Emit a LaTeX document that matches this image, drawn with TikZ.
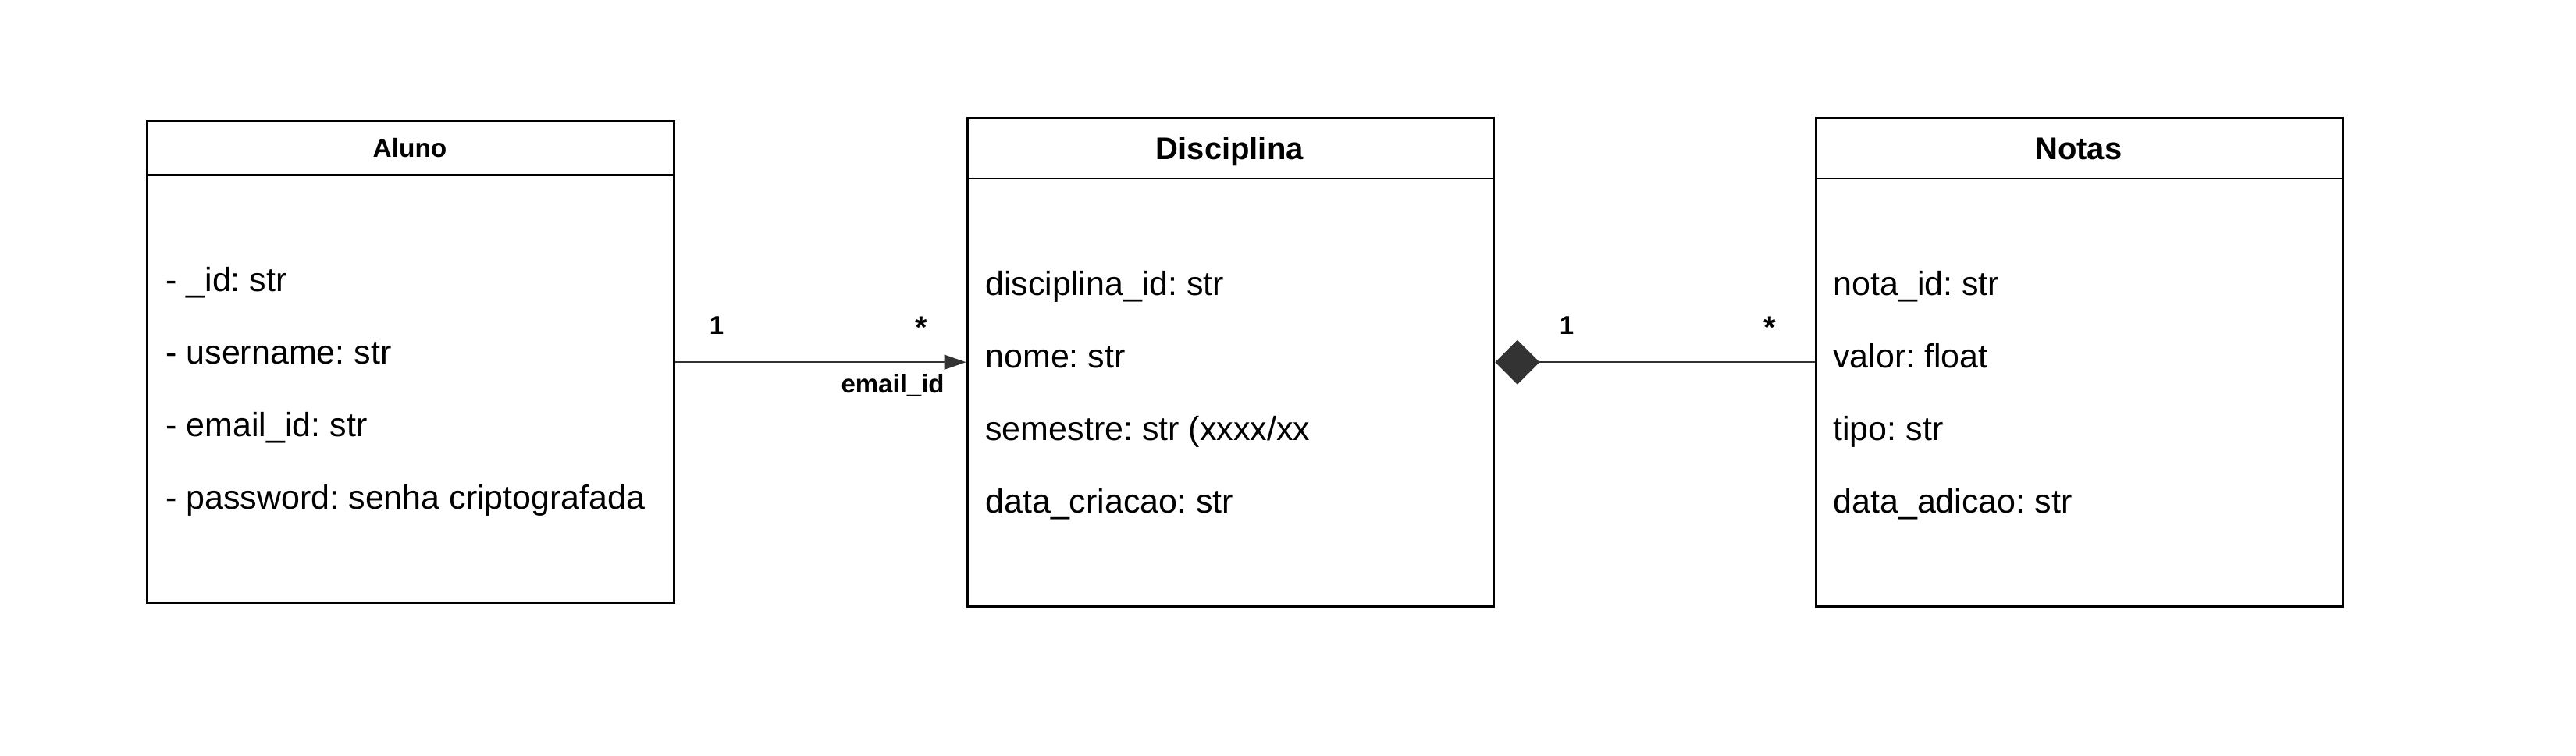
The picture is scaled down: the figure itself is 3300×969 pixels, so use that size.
\documentclass[tikz,border=0pt]{standalone}
\usepackage{fontspec}
\setmainfont{Liberation Sans}
\usetikzlibrary{arrows.meta}
\definecolor{lineC}{HTML}{333333}
\frenchspacing
\begin{document}
\begin{tikzpicture}[x=0.5pt,y=-0.5pt,
  box/.style={draw=black, line width=1.7pt, inner sep=0pt, outer sep=0.85pt, anchor=north west},
  sepline/.style={draw=black, line width=1.3pt},
  attr/.style={anchor=base west, inner sep=0pt, font=\fontsize{21.5}{24}\selectfont},
  title/.style={anchor=base, inner sep=0pt, font=\fontsize{20}{24}\selectfont\bfseries},
  smalltitle/.style={anchor=base, inner sep=0pt, font=\fontsize{16.7}{20}\selectfont\bfseries},
  mult/.style={anchor=base, inner sep=0pt, font=\fontsize{16.5}{20}\selectfont\bfseries},
  star/.style={anchor=base, inner sep=0pt, font=\fontsize{20}{24}\selectfont\bfseries},
  conn/.style={draw=lineC, line width=0.9pt}]
\useasboundingbox (0,0) rectangle (3300,969);
% boxes
\node[box, minimum width=337.5pt, minimum height=308.5pt] (aluno) at (187,154) {};
\node[box, minimum width=337.25pt, minimum height=313pt] (disc) at (1237.5,149.5) {};
\node[box, minimum width=337.25pt, minimum height=313pt] (notas) at (2325,149.5) {};
% header separators
\draw[sepline] (187,224) -- (862,224);
\draw[sepline] (1237.5,229) -- (1912,229);
\draw[sepline] (2325,229) -- (2999.5,229);
% titles
\node[smalltitle] (alunoT) at (525,201.5) {Aluno};
\node[title] (discT) at (1575.25,204.5) {Disciplina};
\node[title] (notasT) at (2662.75,204) {Notas};
% attributes
\node[attr] (a1) at (212,373) {- \_id: str};
\node[attr] (a2) at (212,466) {- username: str};
\node[attr] (a3) at (212,559) {- email\_id: str};
\node[attr] (a4) at (212,652) {- password: senha criptografada};
\node[attr] (d1) at (1262,378) {disciplina\_id: str};
\node[attr] (d2) at (1262,471) {nome: str};
\node[attr] (d3) at (1262,564) {semestre: str (xxxx/xx};
\node[attr] (d4) at (1262,657) {data\_criacao: str};
\node[attr] (n1) at (2348,378) {nota\_id: str};
\node[attr] (n2) at (2348,471) {valor: float};
\node[attr] (n3) at (2348,564) {tipo: str};
\node[attr] (n4) at (2348,657) {data\_adicao: str};
% connectors
\draw[conn, -{Triangle[length=14pt,width=9.5pt]}] (aluno.east) -- (disc.west);
\draw[conn, {Diamond[length=28.5pt,width=28.5pt]}-] (disc.east) -- (notas.west);
% multiplicities and labels
\node[mult] (m1) at (918,428) {1};
\node[star] (m2) at (1180,433) {*};
\node[mult, anchor=base east] (m3) at (1210,503) {email\_id};
\node[mult] (m4) at (2007,428) {1};
\node[star] (m5) at (2267,433) {*};
\end{tikzpicture}
\end{document}
